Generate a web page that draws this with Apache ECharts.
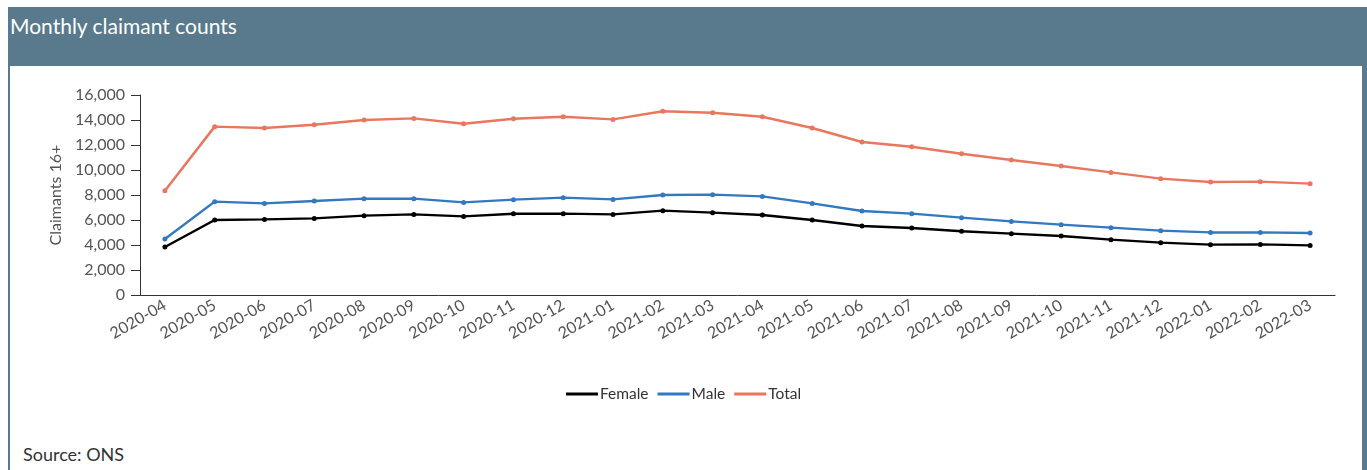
<!DOCTYPE html>
<html>
<head>
<meta charset="utf-8">
<script src="https://cdn.jsdelivr.net/npm/echarts@6/dist/echarts.min.js"></script>
<style>
  html, body { margin: 0; padding: 0; background: #fff; }
  .panel { position: absolute; left: 8px; top: 7px; width: 1359px; height: 463px; background: #587a8c; }
  .panel-body { position: absolute; left: 2px; top: 59px; width: 1352px; height: 404px; background: #fff; }
  .panel h3 { margin: 0; position: absolute; left: 2px; top: 6px; font: 21px Lato, sans-serif; color: #fff; }
  .source { position: absolute; left: 23px; top: 443px; font: 18px Lato, sans-serif; color: #333; }
  #chart { position: absolute; left: 0; top: 0; width: 1367px; height: 470px; }
</style>
</head>
<body>
<div class="panel">
  <h3>Monthly claimant counts</h3>
  <div class="panel-body"></div>
</div>
<div class="source">Source: ONS</div>
<div id="chart"></div>
<script>
  // months shown on the x axis
  const months = ['2020-04', '2020-05', '2020-06', '2020-07', '2020-08', '2020-09', '2020-10', '2020-11', '2020-12',
    '2021-01', '2021-02', '2021-03', '2021-04', '2021-05', '2021-06', '2021-07', '2021-08', '2021-09', '2021-10',
    '2021-11', '2021-12', '2022-01', '2022-02', '2022-03'];

  const female = [3840, 6000, 6050, 6130, 6350, 6450, 6290, 6500, 6510, 6450, 6750, 6590,
    6400, 6000, 5520, 5360, 5100, 4910, 4720, 4430, 4190, 4030, 4050, 3970];
  const male = [4480, 7470, 7330, 7520, 7710, 7710, 7410, 7630, 7790, 7650, 8000, 8030,
    7890, 7330, 6720, 6510, 6190, 5890, 5630, 5390, 5150, 5010, 5010, 4960];
  const total = [8340, 13470, 13360, 13620, 14000, 14130, 13700, 14100, 14260, 14050, 14700, 14580,
    14260, 13360, 12240, 11860, 11300, 10800, 10320, 9810, 9310, 9040, 9070, 8910];

  const colors = { Female: '#000000', Male: '#3478c0', Total: '#e9775f' };
  const font = 'Lato, sans-serif';

  const chart = echarts.init(document.getElementById('chart'));

  function line(name, data) {
    return {
      name: name,
      type: 'line',
      data: data,
      symbol: 'circle',
      symbolSize: 5,
      lineStyle: { width: 2.5, color: colors[name] },
      itemStyle: { color: colors[name] },
      animation: false
    };
  }

  chart.setOption({
    backgroundColor: 'transparent',
    textStyle: { fontFamily: font },
    grid: { left: 140, right: 32, top: 95, bottom: 175 },
    legend: {
      data: ['Female', 'Male', 'Total'],
      left: 'center',
      top: 381,
      icon: 'rect',
      itemWidth: 32,
      itemHeight: 3,
      itemGap: 9,
      textStyle: { fontSize: 15.5, color: '#333', fontFamily: font, padding: [0, 0, 0, -3] }
    },
    xAxis: {
      type: 'category',
      data: months,
      boundaryGap: true,
      axisLine: { lineStyle: { color: '#333', width: 1 } },
      axisTick: { alignWithLabel: true, length: 9, lineStyle: { color: '#333' } },
      axisLabel: { rotate: 30, fontSize: 16, color: '#555', fontFamily: font, margin: 9 }
    },
    yAxis: {
      type: 'value',
      min: 0,
      max: 16000,
      interval: 2000,
      name: 'Claimants 16+',
      nameLocation: 'middle',
      nameGap: 76,
      nameTextStyle: { fontSize: 16, color: '#555', fontFamily: font },
      axisLine: { show: true, lineStyle: { color: '#333', width: 1 } },
      axisTick: { show: true, length: 9, lineStyle: { color: '#333' } },
      splitLine: { show: false },
      axisLabel: {
        fontSize: 16, color: '#555', fontFamily: font, margin: 15,
        formatter: v => v.toLocaleString('en-GB')
      }
    },
    series: [line('Female', female), line('Male', male), line('Total', total)]
  });
</script>
</body>
</html>
